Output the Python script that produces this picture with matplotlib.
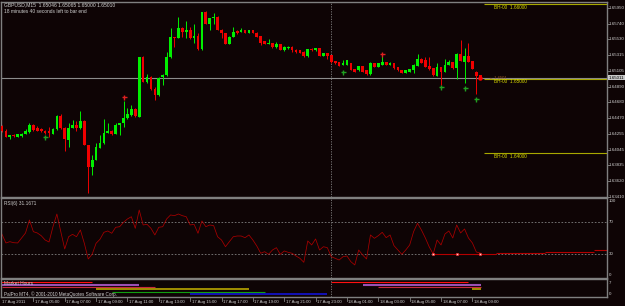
import matplotlib
matplotlib.use("Agg")
import matplotlib.pyplot as plt
import numpy as np

plt.rcParams['font.family'] = ['Liberation Sans', 'DejaVu Sans']

W, H = 625, 306
BG = '#0e0405'
FRAME = '#808080'
TXT = '#cfcfcf'
BULL = '#00f000'
BEAR = '#f00000'

title_text = "GBPUSD,M15  1.65046 1.65065 1.65000 1.65010"
timer_text = "18 minutes 40 seconds left to bar end"
rsi_text = "RSI(6) 31.1671"
mh_text = "Market Hours"
copyright_text = "PalPro MT4, \u00a9 2001-2010 MetaQuotes Software Corp."

opens = [1.6436, 1.6430, 1.6422, 1.6424, 1.6422, 1.6423, 1.6425, 1.6428, 1.6438, 1.6433,
         1.6432, 1.6430, 1.6429, 1.6426, 1.6432, 1.6450, 1.6434, 1.6417, 1.6434, 1.6437,
         1.6433, 1.6443, 1.6411, 1.6381, 1.6390, 1.6407, 1.6413, 1.6427, 1.6430, 1.6425,
         1.6437, 1.6440, 1.6447, 1.6451, 1.6459, 1.6448, 1.6529, 1.6496, 1.6502, 1.6486,
         1.6478, 1.6502, 1.6505, 1.6529, 1.6556, 1.6554, 1.6568, 1.6563, 1.6565, 1.6554,
         1.6558, 1.6540, 1.6589, 1.6574, 1.6581, 1.6583, 1.6566, 1.6561, 1.6547, 1.6556,
         1.6564, 1.6563, 1.6565, 1.6561, 1.6565, 1.6562, 1.6558, 1.6550, 1.6546, 1.6548,
         1.6542, 1.6547, 1.6539, 1.6541, 1.6543, 1.6539, 1.6539, 1.6536, 1.6530, 1.6540,
         1.6538, 1.6541, 1.6531, 1.6534, 1.6532, 1.6524, 1.6522, 1.6518, 1.6518, 1.6521,
         1.6513, 1.6511, 1.6517, 1.6511, 1.6506, 1.6521, 1.6516, 1.6518, 1.6523, 1.6518,
         1.6521, 1.6515, 1.6512, 1.6507, 1.6509, 1.6511, 1.6517, 1.6527, 1.6525, 1.6517,
         1.6514, 1.6504, 1.6515, 1.6509, 1.6518, 1.6523, 1.6514, 1.6533, 1.6523, 1.6530,
         1.6524, 1.6509, 1.6505]
closes = [1.6430, 1.6422, 1.6424, 1.6423, 1.6425, 1.6426, 1.6429, 1.6438, 1.6431, 1.6430,
          1.6429, 1.6427, 1.6427, 1.6432, 1.6450, 1.6433, 1.6419, 1.6434, 1.6437, 1.6433,
          1.6443, 1.6411, 1.6381, 1.6390, 1.6408, 1.6413, 1.6427, 1.6430, 1.6425, 1.6438,
          1.6440, 1.6447, 1.6452, 1.6459, 1.6449, 1.6529, 1.6496, 1.6502, 1.6486, 1.6478,
          1.6501, 1.6505, 1.6529, 1.6556, 1.6554, 1.6568, 1.6563, 1.6565, 1.6554, 1.6557,
          1.6540, 1.6589, 1.6574, 1.6581, 1.6583, 1.6565, 1.6561, 1.6547, 1.6556, 1.6563,
          1.6562, 1.6565, 1.6562, 1.6565, 1.6562, 1.6556, 1.6548, 1.6546, 1.6548, 1.6542,
          1.6547, 1.6539, 1.6542, 1.6543, 1.6539, 1.6536, 1.6535, 1.6530, 1.6540, 1.6538,
          1.6541, 1.6531, 1.6534, 1.6531, 1.6522, 1.6521, 1.6517, 1.6521, 1.6525, 1.6512,
          1.6509, 1.6517, 1.6509, 1.6506, 1.6521, 1.6516, 1.6521, 1.6523, 1.6518, 1.6521,
          1.6514, 1.6511, 1.6507, 1.6512, 1.6513, 1.6518, 1.6527, 1.6521, 1.6516, 1.6513,
          1.6505, 1.6516, 1.6509, 1.6518, 1.6523, 1.6514, 1.6533, 1.6524, 1.6530, 1.6523,
          1.6513, 1.6504, 1.6501]
highs = [1.6438, 1.6432, 1.6424, 1.6425, 1.6425, 1.6427, 1.6432, 1.6440, 1.6439, 1.6436,
         1.6433, 1.6431, 1.6435, 1.6433, 1.6451, 1.6453, 1.6435, 1.6440, 1.6444, 1.6443,
         1.6456, 1.6444, 1.6411, 1.6397, 1.6413, 1.6424, 1.6445, 1.6440, 1.6431, 1.6440,
         1.6440, 1.6470, 1.6461, 1.6464, 1.6460, 1.6529, 1.6530, 1.6506, 1.6503, 1.6489,
         1.6502, 1.6506, 1.6536, 1.6568, 1.6556, 1.6583, 1.6570, 1.6578, 1.6570, 1.6574,
         1.6562, 1.6589, 1.6591, 1.6582, 1.6588, 1.6584, 1.6567, 1.6561, 1.6557, 1.6570,
         1.6565, 1.6568, 1.6566, 1.6566, 1.6566, 1.6563, 1.6558, 1.6550, 1.6553, 1.6548,
         1.6549, 1.6547, 1.6544, 1.6544, 1.6544, 1.6540, 1.6539, 1.6537, 1.6540, 1.6541,
         1.6541, 1.6541, 1.6535, 1.6535, 1.6532, 1.6524, 1.6522, 1.6525, 1.6525, 1.6521,
         1.6513, 1.6517, 1.6517, 1.6511, 1.6523, 1.6521, 1.6521, 1.6530, 1.6523, 1.6522,
         1.6521, 1.6515, 1.6512, 1.6512, 1.6513, 1.6519, 1.6533, 1.6528, 1.6529, 1.6529,
         1.6514, 1.6521, 1.6516, 1.6527, 1.6525, 1.6523, 1.6534, 1.6552, 1.6541, 1.6548,
         1.6524, 1.6510, 1.6505]
lows = [1.6428, 1.6421, 1.6419, 1.6421, 1.6421, 1.6421, 1.6425, 1.6427, 1.6430, 1.6430,
        1.6428, 1.6426, 1.6421, 1.6425, 1.6431, 1.6432, 1.6402, 1.6408, 1.6433, 1.6430,
        1.6432, 1.6410, 1.6346, 1.6370, 1.6390, 1.6407, 1.6412, 1.6427, 1.6424, 1.6425,
        1.6424, 1.6435, 1.6446, 1.6450, 1.6448, 1.6448, 1.6495, 1.6494, 1.6485, 1.6471,
        1.6477, 1.6491, 1.6504, 1.6528, 1.6543, 1.6554, 1.6556, 1.6554, 1.6553, 1.6548,
        1.6539, 1.6539, 1.6573, 1.6566, 1.6574, 1.6565, 1.6554, 1.6546, 1.6546, 1.6556,
        1.6560, 1.6563, 1.6561, 1.6561, 1.6561, 1.6556, 1.6545, 1.6546, 1.6546, 1.6541,
        1.6541, 1.6539, 1.6537, 1.6540, 1.6536, 1.6535, 1.6535, 1.6529, 1.6529, 1.6537,
        1.6537, 1.6530, 1.6531, 1.6526, 1.6521, 1.6520, 1.6517, 1.6518, 1.6518, 1.6511,
        1.6509, 1.6510, 1.6509, 1.6505, 1.6505, 1.6516, 1.6516, 1.6518, 1.6518, 1.6518,
        1.6513, 1.6510, 1.6507, 1.6507, 1.6509, 1.6507, 1.6517, 1.6521, 1.6516, 1.6512,
        1.6504, 1.6504, 1.6491, 1.6509, 1.6518, 1.6513, 1.6499, 1.6524, 1.6494, 1.6522,
        1.6513, 1.6479, 1.6501]

rsi = [54.6, 43.8, 45.4, 44.1, 43.8, 50.0, 56.3, 72.5, 57.9, 56.3,
       52.9, 47.5, 45.0, 64.1, 80.0, 57.9, 36.3, 51.6, 54.6, 51.6,
       60.0, 43.4, 23.8, 29.6, 43.4, 48.4, 57.1, 58.8, 55.9, 63.4,
       64.1, 69.6, 73.8, 76.6, 62.1, 85.0, 66.3, 67.1, 62.1, 53.8,
       63.4, 64.1, 73.8, 78.8, 77.9, 80.0, 77.9, 76.6, 66.3, 67.1,
       55.9, 71.3, 64.1, 66.3, 65.4, 51.6, 47.5, 39.1, 45.4, 51.6,
       52.5, 52.5, 50.4, 53.8, 47.5, 40.0, 30.9, 32.9, 29.6, 35.0,
       37.9, 29.6, 33.8, 32.1, 30.9, 27.5, 24.6, 19.6, 46.3, 41.3,
       48.8, 35.0, 39.1, 37.9, 26.6, 24.6, 22.5, 26.6, 27.5, 20.4,
       16.3, 35.0, 28.8, 23.8, 53.8, 49.6, 52.9, 57.1, 50.4, 53.8,
       40.4, 35.0, 29.6, 35.0, 41.3, 57.9, 68.4, 60.0, 50.0, 38.8,
       30.0, 47.5, 41.3, 55.0, 58.8, 50.0, 66.3, 56.3, 61.3, 50.0,
       43.8, 32.5, 31.2]

# second RSI-window line (step levels) and its markers
floor_starts = [110, 126, 138.5, 151]
floor_levels = [30.4, 31.6, 32.9, 34.6]
floor_mark_bars = [110, 116, 122]

# arrows on the price chart
up_mark_bars = [11, 87, 112, 118, 121]
up_mark_prices = [1.6421, 1.6509, 1.6489, 1.6487, 1.6473]
down_mark_bars = [31, 97]
down_mark_prices = [1.6475, 1.6533]

# horizontal "BH-00" levels
bh_levels = [1.66000, 1.65000, 1.64000]
bh_labels = ["BH-00  1.66000", "BH-00  1.65000", "BH-00  1.64000"]
bh_start_bar = 123
current_price = 1.65011

price_ticks = [1.65950, 1.65740, 1.65530, 1.65315, 1.65105, 1.64890, 1.64680,
               1.64470, 1.64255, 1.64045, 1.63835, 1.63620, 1.63410]

time_tick_bars = [8, 16, 24, 32, 40, 48, 56, 64, 72, 80, 88, 96, 104, 112, 120]
time_tick_labels = ["17 Aug 05:00", "17 Aug 07:00", "17 Aug 09:00", "17 Aug 11:00",
                    "17 Aug 13:00", "17 Aug 15:00", "17 Aug 17:00", "17 Aug 19:00",
                    "17 Aug 21:00", "17 Aug 23:00", "18 Aug 01:00", "18 Aug 03:00",
                    "18 Aug 05:00", "18 Aug 07:00", "18 Aug 09:00"]
first_label = "17 Aug 2011"
day_separator_bar = 84
chart_start_hour = 3.0   # 17 Aug 03:00, bars are 15 minutes

# market-hours sessions: hours since 17 Aug 00:00
session_colors = ['#ff1010', '#9a50b4', '#c8283c', '#c8b400', '#10a010', '#1414e6']
session_levels = [7.4, 6.0, 4.5, 2.9, 1.3, -0.2]
session_widths = [0.8, 1.5, 0.8, 1.1, 0.8, 1.1]
session_spans = [[(0, 8.75), (24, 32.75)],
                 [(2, 11.75), (26, 35.75)],
                 [(3, 12.75), (27, 36.75)],
                 [(9, 18.75), (33, 42.75)],
                 [(10, 19.75)],
                 [(15, 23.75)]]

n = len(opens)
bars = np.arange(n)
o = np.array(opens); c = np.array(closes); hi = np.array(highs); lo = np.array(lows)

fig = plt.figure(figsize=(W / 100, H / 100), dpi=100, facecolor=BG)

def fx(px):
    return px / W

def fy(py):
    return 1 - py / H

def add_panel(top, bottom):
    ax = fig.add_axes([fx(1), fy(bottom), fx(607) - fx(1), (bottom - top) / H])
    ax.set_facecolor(BG)
    for s in ax.spines.values():
        s.set_color(FRAME)
        s.set_linewidth(1.0)
    ax.set_xlim(-0.255, 154.34)
    ax.set_xticks([])
    ax.set_yticks([])
    return ax

ax = add_panel(2, 197)
ymax, ymin = 1.66031, 1.63406
ax.set_ylim(ymin, ymax)

ax_r = add_panel(198, 278)
ax_r.set_ylim(0, 100)

ax_m = add_panel(279, 297)
ax_m.set_ylim(-1.9, 9.55)

# ---- main chart
ax.axhline(current_price, color='#8c8c8c', lw=0.8, zorder=1)
up = c >= o
cols = np.where(up, BULL, BEAR)
ax.vlines(bars, lo, hi, colors=cols, lw=0.7, zorder=2)
body_h = np.maximum(np.abs(c - o), 0.00007)
ax.bar(bars, body_h, bottom=np.minimum(o, c), width=0.7, color=cols, lw=0, zorder=3)

ax.plot(up_mark_bars, up_mark_prices, ls='none', marker='+', ms=3.6, mew=1.0,
        color='#20a020', zorder=4)
ax.plot(down_mark_bars, down_mark_prices, ls='none', marker='+', ms=3.6, mew=1.0,
        color='#e02020', zorder=4)
ax.plot([bars[-1]], [closes[-1]], ls='none', marker='o', ms=2.2, color='#ff0000', zorder=5)

for lvl, lab in zip(bh_levels, bh_labels):
    ax.hlines(lvl, bh_start_bar, 154.34, color='#a8a800', lw=0.8, zorder=4)
    ax.text(bh_start_bar + 2.5, lvl - 0.00012, lab, color='#d8d800', fontsize=3.4,
            va='top', ha='left', zorder=5)
ax.text(bh_start_bar + 1.3, current_price, '\u2190 1.6501', color='#9a5a2a', fontsize=3.0,
        va='center', ha='left', zorder=5)

ax.axvline(day_separator_bar, color=FRAME, lw=0.6, ls=(0, (1.5, 1.5)), zorder=1)

fig.text(fx(4), fy(5), title_text, color=TXT, fontsize=3.6, va='center', ha='left')
fig.text(fx(4), fy(11.5), timer_text, color=TXT, fontsize=3.5, va='center', ha='left')

# right price labels
for p in price_ticks:
    ypx = 2 + (ymax - p) / (ymax - ymin) * 195
    fig.text(fx(609), fy(ypx), f"{p:.5f}", color=TXT, fontsize=3.2, va='center', ha='left')
    fig.add_artist(plt.Line2D([fx(607), fx(609)], [fy(ypx), fy(ypx)], color=FRAME, lw=0.6))
ypx_cur = 2 + (ymax - current_price) / (ymax - ymin) * 195
fig.text(fx(608.5), fy(ypx_cur), f"{current_price:.5f}", color='#000000', fontsize=3.2,
         va='center', ha='left',
         bbox=dict(boxstyle='square,pad=0.15', fc='#c8c8c8', ec='none'))

# ---- RSI panel
for lvl in (70, 30):
    ax_r.axhline(lvl, color=FRAME, lw=0.6, ls=(0, (2, 2)))
ax_r.axvline(day_separator_bar, color=FRAME, lw=0.6, ls=(0, (1.5, 1.5)))
ax_r.plot(bars, rsi, color='#a80000', lw=0.55)
ends = floor_starts[1:] + [154.34]
for s, e, lv in zip(floor_starts, ends, floor_levels):
    ax_r.hlines(lv, s, e, color='#b40000', lw=0.8)
ax_r.plot(floor_mark_bars, [floor_levels[0]] * len(floor_mark_bars), ls='none', marker='s',
          ms=1.8, mfc='#ffd0d0', mec='#ff2020', mew=0.4, zorder=5)
fig.text(fx(4), fy(204), rsi_text, color=TXT, fontsize=3.4, va='center', ha='left')
for v in (100, 70, 30, 0):
    ypx = 278 - v * 0.8
    ypx = min(max(ypx, 201.5), 275)
    fig.text(fx(609), fy(ypx), str(v), color=TXT, fontsize=3.2, va='center', ha='left')

# ---- Market hours panel
last_x = n - 1 + 0.3
for col, lvl, lw, spans in zip(session_colors, session_levels, session_widths, session_spans):
    for h0, h1 in spans:
        x0 = max((h0 - chart_start_hour) * 4, -0.255)
        x1 = min((h1 - chart_start_hour) * 4, last_x)
        if x1 > x0:
            ax_m.hlines(lvl, x0, x1, color=col, lw=lw)
ax_m.axvline(day_separator_bar, color=FRAME, lw=0.6, ls=(0, (1.5, 1.5)))
fig.text(fx(4), fy(283.5), mh_text, color=TXT, fontsize=3.4, va='center', ha='left')
fig.text(fx(4), fy(293.8), copyright_text, color=TXT, fontsize=3.3, va='center', ha='left')
for v in (7, 0):
    ypx = 294 - v * 11 / 7
    fig.text(fx(609), fy(ypx), str(v), color=TXT, fontsize=3.2, va='center', ha='left')

# ---- time axis
def bar_px(k):
    return 1 + (k + 0.255) * (606 / 154.595)

fig.text(fx(2), fy(301.5), first_label, color=TXT, fontsize=3.1, va='center', ha='left')
for k, lab in zip(time_tick_bars, time_tick_labels):
    xp = bar_px(k)
    fig.add_artist(plt.Line2D([fx(xp), fx(xp)], [fy(297), fy(301)], color=FRAME, lw=0.6))
    fig.text(fx(xp + 1.5), fy(301.5), lab, color=TXT, fontsize=3.1, va='center', ha='left')

fig.savefig('out.png', dpi=100, facecolor=BG)
